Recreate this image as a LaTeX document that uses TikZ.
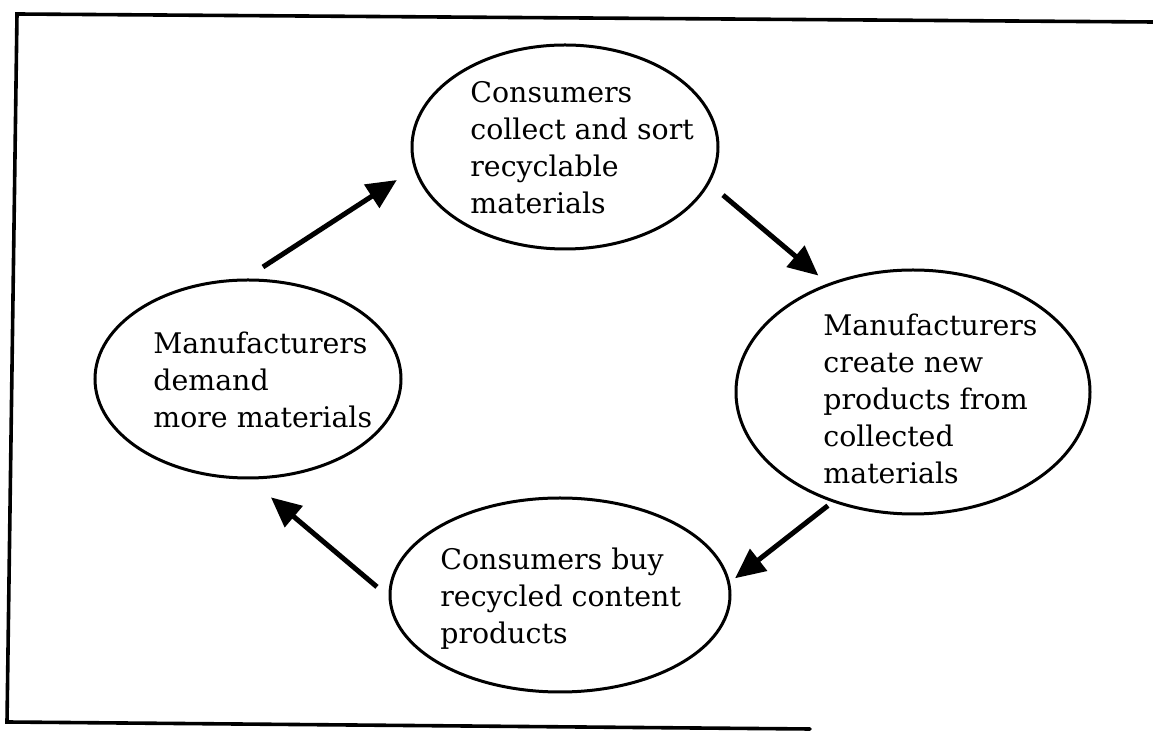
\documentclass[tikz,border=0pt]{standalone}
\usepackage{fontspec}
\setmainfont{DejaVu Serif}
\usetikzlibrary{shapes.geometric,arrows.meta}
\begin{document}
\begin{tikzpicture}[x=0.5pt,y=-0.5pt,
  bubble/.style={draw,ellipse,line width=1.5pt,inner sep=0pt,outer sep=0pt},
  txt/.style={anchor=north west,align=left,inner sep=0pt,
    font=\fontsize{14.2}{18.5}\selectfont},
  flow/.style={line width=2.5pt,-{Triangle[length=15pt,width=13.5pt]}},
  frame/.style={line width=1.8pt,line cap=round}]
\useasboundingbox (0,0) rectangle (1153,731);
% open frame
\coordinate (f1) at (1153,22);
\coordinate (f2) at (17,14);
\coordinate (f3) at (7,722);
\coordinate (f4) at (810,729);
\draw[frame] (f1) -- (f2) -- (f3) -- (f4);
% the four stages
\node[bubble,minimum width=153pt,minimum height=102pt] (T) at (565,147) {};
\node[bubble,minimum width=177pt,minimum height=122pt] (R) at (913,392) {};
\node[bubble,minimum width=170pt,minimum height=97pt] (B) at (560,595) {};
\node[bubble,minimum width=153pt,minimum height=99pt] (L) at (248,379) {};
\node[txt] (Tt) at (470,81) {Consumers\\collect and sort\\recyclable\\materials};
\node[txt] (Rt) at (823,314) {Manufacturers\\create new\\products from\\collected\\materials};
\node[txt] (Bt) at (440,548) {Consumers buy\\recycled content\\products};
\node[txt] (Lt) at (153,332) {Manufacturers\\demand\\more materials};
% cycle arrows
\draw[flow,shorten <=12pt,shorten >=11pt] (L.93.1) -- (T.188.4);
\draw[flow,shorten <=9.6pt,shorten >=7pt] (T.346.1) -- (R.128.6);
\draw[flow,shorten <=3.7pt,shorten >=4pt] (R.234.5) -- (B.4.4);
\draw[flow,shorten <=8.6pt,shorten >=15pt] (B.181.8) -- (L.270.6);
\end{tikzpicture}
\end{document}
